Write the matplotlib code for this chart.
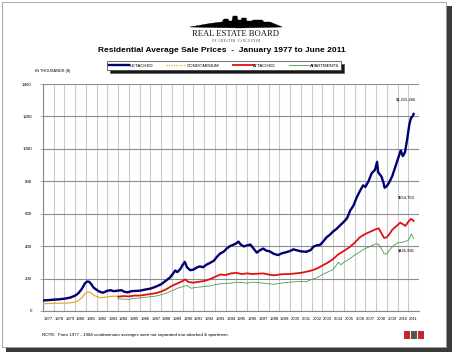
import matplotlib
matplotlib.use('Agg')
import matplotlib.pyplot as plt
from matplotlib.patches import Rectangle, Polygon
from matplotlib.ticker import FixedLocator, NullFormatter
import numpy as np

# --- data (thousands of $) ---
det_t = [1977.0, 1977.5, 1978.0, 1978.5, 1979.0, 1979.5, 1980.0, 1980.3, 1980.6, 1980.9,
         1981.1, 1981.3, 1981.5, 1981.7, 1982.0, 1982.3, 1982.6, 1983.0, 1983.3, 1983.6,
         1984.0, 1984.3, 1984.6, 1984.9, 1985.2, 1985.6, 1986.0, 1986.5, 1987.0, 1987.5,
         1988.0, 1988.5, 1988.8, 1989.1, 1989.3, 1989.5, 1989.8, 1990.0, 1990.2, 1990.4,
         1990.7, 1991.0, 1991.3, 1991.6, 1991.9, 1992.2, 1992.5, 1992.9, 1993.2, 1993.5,
         1993.8, 1994.1, 1994.4, 1994.7, 1995.0, 1995.2, 1995.4, 1995.7, 1996.0, 1996.3,
         1996.6, 1996.9, 1997.2, 1997.5, 1997.8, 1998.1, 1998.5, 1998.9, 1999.2, 1999.6,
         2000.0, 2000.3, 2000.6, 2001.0, 2001.5, 2001.9, 2002.2, 2002.5, 2002.8, 2003.1,
         2003.4, 2003.7, 2004.0, 2004.3, 2004.65, 2005.0, 2005.3, 2005.6, 2005.9, 2006.2,
         2006.5, 2006.8, 2007.0, 2007.3, 2007.6, 2007.9, 2008.1, 2008.2, 2008.5, 2008.7,
         2008.8, 2009.0, 2009.2, 2009.5, 2009.7, 2009.9, 2010.1, 2010.3, 2010.5, 2010.7,
         2010.9, 2011.1, 2011.25, 2011.4, 2011.5]
det_v = [65, 67, 70, 72, 76, 82, 95, 110, 135, 170,
         182, 180, 165, 145, 130, 118, 113, 125, 128, 122,
         126, 128, 118, 115, 122, 124, 125, 132, 138, 150,
         165, 190, 205, 230, 250, 240, 260, 285, 303, 270,
         252, 255, 268, 275, 270, 285, 295, 310, 335, 355,
         365, 385, 400, 408, 418, 428, 410, 398, 405, 410,
         385, 360, 375, 385, 372, 368, 352, 345, 355, 362,
         370, 380, 375, 368, 365, 375, 398, 405, 408, 430,
         455, 470, 490, 505, 528, 550, 572, 620, 650, 700,
         740, 775, 765, 800, 850, 870, 920, 855, 830, 790,
         760, 770, 790, 830, 870, 910, 950, 990, 955, 980,
         1060, 1150, 1190, 1200, 1215]

condo_t = [1977.0, 1977.5, 1978.0, 1978.5, 1979.0, 1979.5, 1980.0, 1980.3, 1980.6, 1980.9,
           1981.1, 1981.4, 1981.8, 1982.3, 1982.8, 1983.3, 1983.9]
condo_v = [45, 46, 47, 48, 48, 50, 55, 65, 80, 105,
           119, 115, 95, 82, 85, 90, 92]

att_t = [1984.0, 1984.5, 1985.0, 1985.5, 1986.0, 1986.5, 1987.0, 1987.5, 1988.0, 1988.5,
         1989.0, 1989.5, 1990.0, 1990.25, 1990.5, 1991.0, 1991.5, 1992.0, 1992.5, 1993.0,
         1993.5, 1994.0, 1994.5, 1995.0, 1995.5, 1996.0, 1996.5, 1997.0, 1997.5, 1998.0,
         1998.5, 1999.0, 1999.5, 2000.0, 2000.5, 2001.0, 2001.5, 2002.0, 2002.5, 2003.0,
         2003.5, 2004.0, 2004.5, 2005.0, 2005.5, 2006.0, 2006.5, 2007.0, 2007.5, 2008.0,
         2008.25, 2008.5, 2008.75, 2009.0, 2009.25, 2009.5, 2010.0, 2010.25, 2010.5, 2010.75,
         2011.0, 2011.25, 2011.42, 2011.5]
att_v = [88, 92, 90, 95, 95, 100, 105, 110, 120, 135,
         155, 170, 185, 195, 180, 175, 180, 185, 195, 210,
         225, 222, 232, 235, 228, 232, 228, 230, 232, 225,
         220, 225, 228, 228, 232, 235, 242, 250, 262, 280,
         298, 320, 350, 370, 392, 420, 455, 475, 490, 505,
         510, 480, 450, 455, 475, 500, 530, 545, 535, 525,
         550, 568, 560, 555]

apt_t = [1984.0, 1985.0, 1985.5, 1986.0, 1986.5, 1987.0, 1987.5, 1988.0, 1988.5, 1989.0,
         1989.5, 1990.0, 1990.4, 1990.8, 1991.2, 1991.6, 1992.0, 1992.5, 1993.0, 1993.5,
         1994.0, 1994.5, 1995.0, 1995.5, 1996.0, 1996.5, 1997.0, 1997.5, 1998.0, 1998.5,
         1999.0, 1999.5, 2000.0, 2000.5, 2001.0, 2001.5, 2002.0, 2002.5, 2003.0, 2003.5,
         2004.0, 2004.5, 2004.75, 2005.0, 2005.5, 2006.0, 2006.5, 2007.0, 2007.5, 2008.0,
         2008.25, 2008.5, 2008.75, 2009.0, 2009.25, 2009.5, 2010.0, 2010.5, 2011.0, 2011.3,
         2011.5]
apt_v = [75, 72, 78, 80, 85, 88, 92, 100, 110, 125,
         140, 150, 158, 140, 145, 148, 150, 155, 162, 168,
         170, 172, 178, 175, 172, 178, 175, 172, 168, 165,
         170, 175, 178, 180, 182, 180, 195, 205, 225, 240,
         255, 300, 285, 300, 320, 345, 365, 385, 400, 415,
         410, 385, 355, 350, 375, 395, 420, 425, 435, 475,
         446]

years = list(range(1977, 2012))
y_ticks = [0, 200, 400, 600, 800, 1000, 1200, 1400]
end_labels = ['$1,215,266', '$554,763', '$445,981']
end_label_y = [1307, 697, 376]

W, H = 456, 354
fig = plt.figure(figsize=(W / 100, H / 100), dpi=100)
fig.patch.set_facecolor('white')

# card with drop shadow
fig.patches.append(Rectangle((6 / W, 1 - 352 / H), 446 / W, 346 / H, transform=fig.transFigure,
                             facecolor='#3a3a3a', edgecolor='none', zorder=-3))
fig.patches.append(Rectangle((2 / W, 1 - 347 / H), 444 / W, 345 / H, transform=fig.transFigure,
                             facecolor='white', edgecolor='#9a9a9a', lw=0.6, zorder=-2))

# logo skyline
sky = [(190, 27), (210, 23.5), (222, 22), (224, 19), (228, 19), (229, 21), (232, 21), (233, 16),
       (237, 16), (238, 20), (241, 20), (242, 18), (246, 18), (247, 21), (252, 21), (253, 20),
       (262, 20), (264, 22), (270, 22), (282, 27), (240, 28)]
fig.patches.append(Polygon([(x / W, 1 - y / H) for x, y in sky], closed=True,
                           transform=fig.transFigure, facecolor='black', edgecolor='black', lw=0.3))
fig.text(236 / W, 1 - 34 / H, 'REAL ESTATE BOARD', ha='center', va='center',
         fontsize=6.2, family='Liberation Serif', color='#111111')
fig.text(236 / W, 1 - 40.5 / H, 'O F   G R E A T E R   V A N C O U V E R', ha='center', va='center',
         fontsize=2.0, family='Liberation Serif', color='#222222')

fig.text(222 / W, 1 - 51 / H, 'Residential Average Sale Prices  -  January 1977 to June 2011',
         ha='center', va='center', fontsize=6.0, fontweight='bold', family='Liberation Sans')
fig.text(35 / W, 1 - 71 / H, 'IN THOUSANDS ($)', ha='left', va='center', fontsize=2.8,
         family='Liberation Sans')
fig.text(42 / W, 1 - 335 / H,
         'NOTE:  From 1977 - 1984 condominium averages were not separated into attached & apartment.',
         ha='left', va='center', fontsize=3.2, family='Liberation Sans')

# small logos bottom right
for i, c in enumerate(['#c0282d', '#555555', '#c0282d']):
    fig.patches.append(Rectangle(((404 + i * 7) / W, 1 - 339 / H), 6 / W, 8 / H,
                                 transform=fig.transFigure, facecolor=c, edgecolor='none'))

ax = fig.add_axes([43 / W, 1 - 311 / H, 376 / W, 227 / H])
ax.set_zorder(1)
ax.patch.set_alpha(0)
ax.plot(apt_t, apt_v, color='#4a9a4a', lw=0.6, label='APARTMENTS', zorder=3)
ax.plot(condo_t, condo_v, color='#e8a838', lw=0.9, label='CONDOMINIUM', zorder=3)
ax.plot(att_t, att_v, color='#e01010', lw=1.3, label='ATTACHED', zorder=4)
ax.plot(det_t, det_v, color='#000070', lw=1.7, label='DETACHED', zorder=5)

ax.set_xlim(1977, 2012)
ax.set_ylim(0, 1400)
ax.set_yticks(y_ticks)
ax.set_yticklabels([str(v) for v in y_ticks], fontsize=3.2, family='Liberation Sans')
ax.xaxis.set_major_locator(FixedLocator([y + 0.5 for y in years]))
ax.set_xticklabels([str(y) for y in years], fontsize=3.0, family='Liberation Sans')
ax.xaxis.set_minor_locator(FixedLocator(years + [2012]))
ax.xaxis.set_minor_formatter(NullFormatter())
ax.tick_params(axis='x', which='both', length=0, pad=4)
ax.tick_params(axis='y', length=2, width=0.5, color='#888888', pad=6)
ax.grid(axis='x', which='minor', color='#cacaca', lw=0.8)
ax.grid(axis='y', which='major', color='#8c8c8c', lw=0.8)
ax.set_axisbelow(True)
for s in ['top', 'right']:
    ax.spines[s].set_visible(False)
for s in ['left', 'bottom']:
    ax.spines[s].set_color('#888888')
    ax.spines[s].set_linewidth(0.8)

for lab, yv in zip(end_labels, end_label_y):
    ax.text(2010.8, yv, lab, ha='center', va='center', fontsize=3.0, family='Liberation Sans')

handles, labels = ax.get_legend_handles_labels()
order = [3, 1, 2, 0]
leg = fig.legend([handles[i] for i in order], [labels[i] for i in order],
                 loc='center', bbox_to_anchor=(224 / W, 1 - 65.5 / H), ncol=4,
                 fontsize=3.2, frameon=True, fancybox=False,
                 shadow={'facecolor': 'black', 'alpha': 0.9},
                 handlelength=4.5, columnspacing=3, borderpad=0.5, handletextpad=0.1)
leg.get_frame().set_edgecolor('#333333')
leg.get_frame().set_linewidth(0.5)
leg.legend_handles[1].set_linestyle((0, (1, 1)))
for t in leg.get_texts():
    t.set_family('Liberation Sans')

fig.savefig('out.png', dpi=100)
